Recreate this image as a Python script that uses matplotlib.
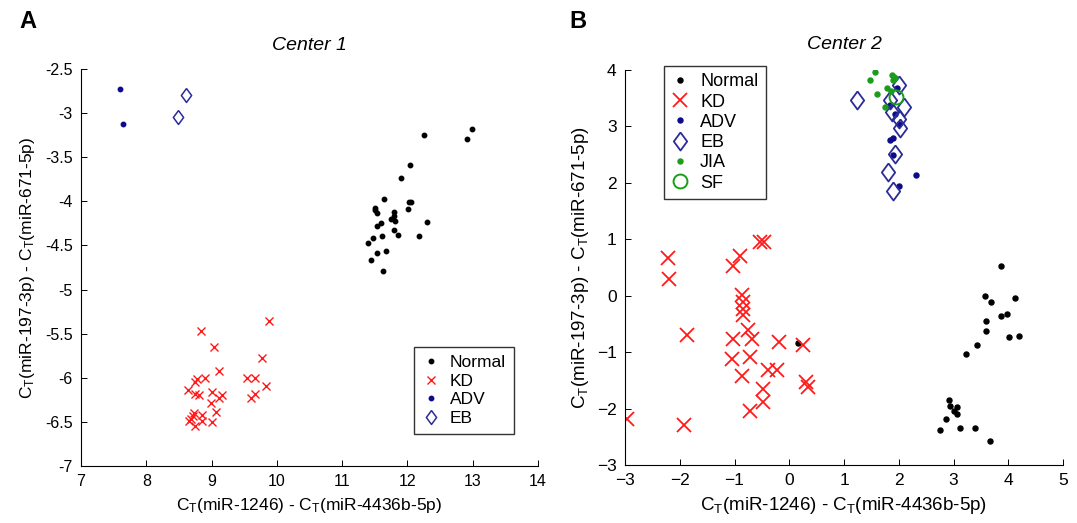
import matplotlib
matplotlib.use("Agg")
import matplotlib.pyplot as plt

plt.rcParams['font.family'] = ['Liberation Sans', 'DejaVu Sans']
plt.rcParams['mathtext.fontset'] = 'custom'
plt.rcParams['mathtext.rm'] = 'Liberation Sans'
plt.rcParams['mathtext.it'] = 'Liberation Sans:italic'

# ---------------- Center 1 data ----------------
c1_normal_x = [12.99, 12.92, 12.25, 12.04, 11.90, 11.64, 11.50, 11.50, 11.53, 12.02,
               12.06, 12.01, 11.80, 11.80, 11.75, 11.81, 11.60, 11.54, 12.30, 11.80,
               11.61, 11.85, 11.48, 12.18, 11.40, 11.67, 11.53, 11.44, 11.62]
c1_normal_y = [-3.18, -3.29, -3.25, -3.59, -3.74, -3.97, -4.07, -4.10, -4.13, -4.01,
               -4.01, -4.09, -4.12, -4.17, -4.20, -4.22, -4.24, -4.28, -4.23, -4.32,
               -4.39, -4.38, -4.41, -4.39, -4.47, -4.56, -4.59, -4.67, -4.79]
c1_kd_x = [9.88, 8.84, 9.04, 9.78, 9.12, 8.90, 8.77, 8.75, 9.55, 9.66,
           9.83, 8.64, 9.01, 8.75, 8.81, 9.16, 9.67, 9.12, 9.61, 8.99,
           9.07, 8.73, 8.71, 8.86, 8.66, 8.86, 9.01, 8.75, 8.68]
c1_kd_y = [-5.36, -5.47, -5.65, -5.78, -5.92, -6.00, -6.01, -6.05, -6.00, -6.00,
           -6.09, -6.14, -6.16, -6.18, -6.20, -6.20, -6.18, -6.23, -6.23, -6.29,
           -6.39, -6.40, -6.43, -6.42, -6.49, -6.49, -6.50, -6.55, -6.47]
c1_adv_x = [7.59, 7.64]
c1_adv_y = [-2.73, -3.12]
c1_eb_x = [8.61, 8.49]
c1_eb_y = [-2.80, -3.04]

# ---------------- Center 2 data ----------------
c2_normal_x = [3.87, 3.57, 3.69, 4.12, 3.86, 3.97, 3.59, 3.60, 4.01, 4.20,
               3.43, 3.23, 2.91, 2.94, 3.06, 3.00, 3.07, 2.86, 2.76, 3.11,
               3.39, 3.67, 0.16]
c2_normal_y = [0.52, 0.00, -0.12, -0.04, -0.36, -0.33, -0.45, -0.63, -0.73, -0.71,
               -0.88, -1.04, -1.84, -1.96, -1.98, -2.05, -2.09, -2.19, -2.38, -2.35,
               -2.35, -2.58, -0.83]
c2_kd_x = [-2.97, -2.22, -2.20, -1.86, -1.92, -0.90, -1.02, -0.53, -0.47, -0.87,
           -0.84, -0.84, -0.84, -0.75, -0.68, -1.02, -0.71, -1.05, -0.87, -0.39,
           -0.23, -0.18, 0.25, -0.48, -0.48, -0.71, 0.31, 0.35]
c2_kd_y = [-2.19, 0.67, 0.29, -0.70, -2.29, 0.71, 0.52, 0.96, 0.96, 0.01,
           -0.11, -0.24, -0.34, -0.60, -0.77, -0.76, -1.09, -1.13, -1.42, -1.31,
           -1.32, -0.82, -0.88, -1.66, -1.88, -2.04, -1.53, -1.62]
c2_adv_x = [1.84, 1.90, 1.89, 2.31, 2.01, 1.84, 1.94, 1.97, 2.00]
c2_adv_y = [2.76, 2.80, 2.50, 2.14, 1.95, 3.38, 3.22, 3.68, 3.05]
c2_eb_x = [1.24, 2.00, 1.84, 2.09, 1.88, 2.01, 2.03, 1.94, 1.80, 1.89]
c2_eb_y = [3.47, 3.73, 3.47, 3.35, 3.26, 3.13, 2.97, 2.52, 2.20, 1.85]
c2_jia_x = [1.57, 1.48, 1.60, 1.88, 1.91, 1.94, 1.89, 1.74, 1.86, 1.79]
c2_jia_y = [3.96, 3.82, 3.57, 3.91, 3.88, 3.85, 3.82, 3.34, 3.62, 3.68]
c2_sf_x = [1.95]
c2_sf_y = [3.53]

legend_c1 = ['Normal', 'KD', 'ADV', 'EB']
legend_c2 = ['Normal', 'KD', 'ADV', 'EB', 'JIA', 'SF']

c1_xticks = [7, 8, 9, 10, 11, 12, 13, 14]
c1_yticks = [-7, -6.5, -6, -5.5, -5, -4.5, -4, -3.5, -3, -2.5]
c2_xticks = [-3, -2, -1, 0, 1, 2, 3, 4, 5]
c2_yticks = [-3, -2, -1, 0, 1, 2, 3, 4]

NAVY = '#0c0c8a'
EBC = '#2b2b9a'
RED = '#ff1a1a'
GREEN = '#1a9e1a'
DIAMOND = [(0, 1), (0.74, 0), (0, -1), (-0.74, 0), (0, 1)]

xlabel = r'C$_\mathregular{T}$(miR-1246) - C$_\mathregular{T}$(miR-4436b-5p)'
ylabel = r'C$_\mathregular{T}$(miR-197-3p) - C$_\mathregular{T}$(miR-671-5p)'

fig = plt.figure(figsize=(10.77, 5.23), dpi=100)
ax1 = fig.add_axes([81 / 1077, 1 - 466 / 523, 457 / 1077, 397 / 523])
ax2 = fig.add_axes([625 / 1077, 1 - 465 / 523, 438 / 1077, 395 / 523])

for ax in (ax1, ax2):
    ax.spines['top'].set_visible(False)
    ax.spines['right'].set_visible(False)
    ax.spines['left'].set_linewidth(0.8)
    ax.spines['bottom'].set_linewidth(0.8)
    ax.tick_params(direction='in', length=4, width=0.7, labelsize=11.5, pad=6)

# Panel A
ax1.plot(c1_normal_x, c1_normal_y, 'o', color='black', ms=3.2, ls='none', label=legend_c1[0])
ax1.plot(c1_kd_x, c1_kd_y, 'x', color=RED, ms=6, mew=1.0, ls='none', label=legend_c1[1])
ax1.plot(c1_adv_x, c1_adv_y, 'o', color=NAVY, ms=3.2, ls='none', label=legend_c1[2])
ax1.plot(c1_eb_x, c1_eb_y, ls='none', marker=DIAMOND, ms=10, mfc='none', mec=EBC, mew=1.1, label=legend_c1[3])
ax1.set_xlim(7, 14)
ax1.set_ylim(-7, -2.5)
ax1.set_xticks(c1_xticks)
ax1.set_yticks(c1_yticks)
ax1.set_yticklabels([f'{v:g}' for v in c1_yticks])
ax1.set_xlabel(xlabel, fontsize=12.5, labelpad=5)
ax1.set_ylabel(ylabel, fontsize=12.5, labelpad=6)
ax1.set_title('Center 1', fontsize=14, style='italic', pad=14)
leg1 = ax1.legend(loc='lower right', bbox_to_anchor=(0.947, 0.081), fontsize=12.5,
                  frameon=True, fancybox=False, edgecolor='black', handlelength=1.0,
                  handletextpad=0.6, borderpad=0.45, labelspacing=0.2, numpoints=1,
                  borderaxespad=0)
leg1.get_frame().set_linewidth(1.0)

# Panel B
ax2.plot(c2_normal_x, c2_normal_y, 'o', color='black', ms=3.6, ls='none', label=legend_c2[0])
ax2.plot(c2_kd_x, c2_kd_y, 'x', color=RED, ms=10, mew=1.3, ls='none', label=legend_c2[1])
ax2.plot(c2_adv_x, c2_adv_y, 'o', color=NAVY, ms=3.6, ls='none', label=legend_c2[2])
ax2.plot(c2_eb_x, c2_eb_y, ls='none', marker=DIAMOND, ms=13, mfc='none', mec=EBC, mew=1.3, label=legend_c2[3])
ax2.plot(c2_jia_x, c2_jia_y, 'o', color=GREEN, ms=3.6, ls='none', label=legend_c2[4])
ax2.plot(c2_sf_x, c2_sf_y, 'o', mfc='none', mec=GREEN, ms=10, mew=1.4, ls='none', label=legend_c2[5])
ax2.set_xlim(-3, 5)
ax2.set_ylim(-3, 4)
ax2.set_xticks(c2_xticks)
ax2.set_yticks(c2_yticks)
ax2.tick_params(labelsize=12.5)
ax2.set_xlabel(xlabel, fontsize=13.5, labelpad=5)
ax2.set_ylabel(ylabel, fontsize=13.5, labelpad=4)
ax2.set_title('Center 2', fontsize=14, style='italic', pad=15)
leg2 = ax2.legend(loc='upper left', bbox_to_anchor=(0.089, 1.01), fontsize=13,
                  frameon=True, fancybox=False, edgecolor='black', handlelength=1.0,
                  handletextpad=0.6, borderpad=0.4, labelspacing=0.18, numpoints=1,
                  borderaxespad=0)
leg2.get_frame().set_linewidth(1.0)

fig.text(28 / 1077, 1 - 22 / 523, 'A', fontsize=17, fontweight='bold', ha='center', va='center')
fig.text(578 / 1077, 1 - 22 / 523, 'B', fontsize=17, fontweight='bold', ha='center', va='center')

fig.savefig('out.png', dpi=100)
